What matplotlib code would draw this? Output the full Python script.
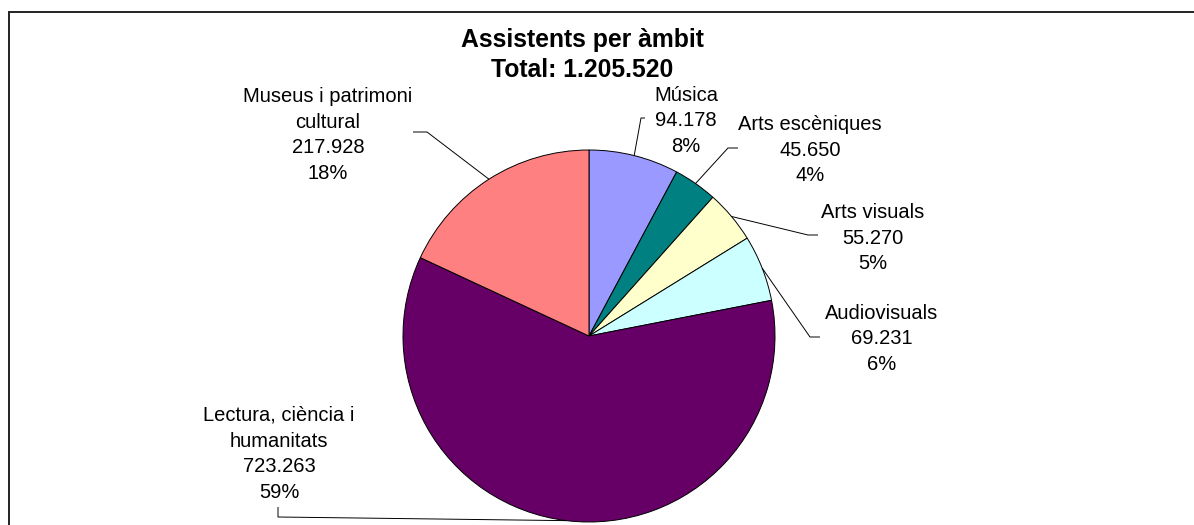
import numpy as np
import matplotlib
matplotlib.use('Agg')
import matplotlib.pyplot as plt

plt.rcParams['font.family'] = ['Liberation Sans', 'DejaVu Sans']

# dades
ambits = ['Música', 'Arts escèniques', 'Arts visuals', 'Audiovisuals',
          'Lectura, ciència i\nhumanitats', 'Museus i patrimoni\ncultural']
assistents = [94178, 45650, 55270, 69231, 723263, 217928]
percent_labels = ['8%', '4%', '5%', '6%', '59%', '18%']
colors = ['#9999FF', '#008080', '#FFFFCC', '#CCFFFF', '#660066', '#FF8080']

total = sum(assistents)

def fmt(n):
    return '{:,}'.format(n).replace(',', '.')

# layout (pixels, y from top)
W, H = 1194, 525
cx, cy, R = 589, 336, 186
label_xy = [(686, 121), (810, 150), (873, 238), (882, 339), (279, 454), (328, 135)]
# leader: tick end, knee (label side)
leader_pts = [[(645, 118), (641, 118)],
              [(738, 148), (728, 148)],
              [(818, 235), (808, 235)],
              [(820, 337), (810, 337)],
              [(278, 507), (278, 517)],
              [(413, 132), (427, 132)]]

fig = plt.figure(figsize=(W / 100, H / 100), dpi=100)
ax = fig.add_axes([0, 0, 1, 1])

wedges, _ = ax.pie(assistents, colors=colors, startangle=-90, counterclock=True,
                   center=(cx, cy), radius=R,
                   wedgeprops=dict(edgecolor='black', linewidth=0.7))
ax.set_xlim(0, W)
ax.set_ylim(H, 0)
ax.set_aspect('auto')
ax.axis('off')

for i, w in enumerate(wedges):
    mid = np.deg2rad((w.theta1 + w.theta2) / 2)
    ex = cx + R * np.cos(mid)
    ey = cy + R * np.sin(mid)
    pts = leader_pts[i] + [(ex, ey)]
    ax.plot([p[0] for p in pts], [p[1] for p in pts], color='black', lw=0.7,
            solid_capstyle='butt')
    txt = ambits[i] + '\n' + fmt(assistents[i]) + '\n' + percent_labels[i]
    ax.text(label_xy[i][0], label_xy[i][1], txt, ha='center', va='center',
            ma='center', fontsize=14.5, linespacing=1.45, color='black')

ax.text(582, 55, 'Assistents per àmbit\nTotal: ' + fmt(total), ha='center',
        va='center', ma='center', fontsize=17.8, fontweight='bold',
        linespacing=1.3)

# marc
ax.plot([8.5, 8.5, W], [H, 12, 12], color='#222222', lw=1.4,
        solid_joinstyle='miter', clip_on=False)

fig.savefig('out.png', dpi=100)
